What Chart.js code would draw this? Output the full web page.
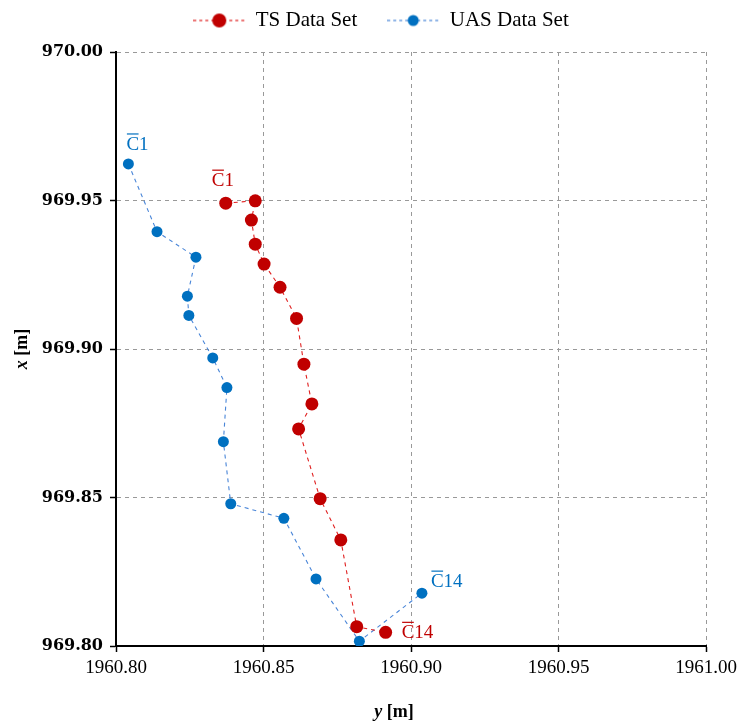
<!DOCTYPE html>
<html>
<head>
<meta charset="utf-8">
<script src="https://cdn.jsdelivr.net/npm/chart.js@4.4.0/dist/chart.umd.min.js"></script>
<style>
  html, body { margin: 0; padding: 0; background: #fff; }
  #wrap { width: 738px; height: 722px; }
</style>
</head>
<body>
<div id="wrap"><canvas id="grafico" width="738" height="722"></canvas></div>
<script>
// Datos (y [m] en eje horizontal, x [m] en eje vertical)
const tsY = [1960.8372, 1960.8472, 1960.8459, 1960.8472, 1960.8502, 1960.8556, 1960.8612,
             1960.8637, 1960.8664, 1960.8619, 1960.8692, 1960.8762, 1960.8816, 1960.8914];
const tsX = [969.9491, 969.9499, 969.9434, 969.9353, 969.9286, 969.9208, 969.9103,
             969.8949, 969.8815, 969.8731, 969.8496, 969.8357, 969.8065, 969.8046];

const uasY = [1960.8042, 1960.8139, 1960.8271, 1960.8242, 1960.8247, 1960.8328, 1960.8376,
              1960.8364, 1960.8389, 1960.8569, 1960.8678, 1960.8825, 1960.9037];
const uasX = [969.9623, 969.9395, 969.9309, 969.9178, 969.9113, 969.8970, 969.8870,
              969.8688, 969.8479, 969.8430, 969.8226, 969.8016, 969.8178];

const ejeYTicks = [1960.80, 1960.85, 1960.90, 1960.95, 1961.00];
const ejeXTicks = [969.80, 969.85, 969.90, 969.95, 970.00];

const nombresSeries = ['TS Data Set', 'UAS Data Set'];

// Etiquetas de los puntos extremos
const etiquetas = [
  { serie: 0, punto: 0, texto: '1' },
  { serie: 0, punto: 13, texto: '14' },
  { serie: 1, punto: 0, texto: '1' },
  { serie: 1, punto: 12, texto: '14' }
];

const rojo = '#C00000';
const rojoLinea = '#E02020';
const azul = '#0070C0';
const azulLinea = '#4A86D8';

function toPoints(xs, ys) {
  return xs.map((v, i) => ({ x: v, y: ys[i] }));
}

// icono de la leyenda: linea discontinua con circulo
function iconoLeyenda(colorLinea, colorPunto, radio) {
  const c = document.createElement('canvas');
  c.width = 52;
  c.height = 16;
  const ctx = c.getContext('2d');
  ctx.strokeStyle = colorLinea;
  ctx.lineWidth = 1.2;
  ctx.setLineDash([3, 3]);
  ctx.beginPath();
  ctx.moveTo(0, 8);
  ctx.lineTo(52, 8);
  ctx.stroke();
  ctx.setLineDash([]);
  ctx.fillStyle = colorPunto;
  ctx.beginPath();
  ctx.arc(26, 8, radio, 0, Math.PI * 2);
  ctx.fill();
  return c;
}

const iconos = [iconoLeyenda(rojoLinea, rojo, 7), iconoLeyenda(azulLinea, azul, 5.5)];

// posicion de las etiquetas relativa al punto (px)
const offsetsEtiquetas = [
  { dx: -14, dy: -17 },
  { dx: 16, dy: 6 },
  { dx: -2, dy: -14 },
  { dx: 9, dy: -6 }
];
const coloresEtiquetas = [rojo, rojo, azul, azul];

const pluginEtiquetas = {
  id: 'etiquetasPuntos',
  afterDatasetsDraw(chart) {
    const ctx = chart.ctx;
    ctx.save();
    ctx.font = '19px "Liberation Serif"';
    ctx.textBaseline = 'alphabetic';
    ctx.textAlign = 'left';
    etiquetas.forEach((et, i) => {
      const p = chart.data.datasets[et.serie].data[et.punto];
      const px = chart.scales.x.getPixelForValue(p.x);
      const py = chart.scales.y.getPixelForValue(p.y);
      const x = px + offsetsEtiquetas[i].dx;
      const y = py + offsetsEtiquetas[i].dy;
      ctx.fillStyle = coloresEtiquetas[i];
      ctx.strokeStyle = coloresEtiquetas[i];
      ctx.fillText('C', x, y);
      const w = ctx.measureText('C').width;
      ctx.fillText(et.texto, x + w, y);
      ctx.lineWidth = 1.2;
      ctx.beginPath();
      ctx.moveTo(x + 0.5, y - 16);
      ctx.lineTo(x + w - 0.5, y - 16);
      ctx.stroke();
    });
    ctx.restore();
  }
};

// titulos de ejes con la variable en cursiva
const pluginTitulos = {
  id: 'titulosEjes',
  afterDraw(chart) {
    const ctx = chart.ctx;
    const area = chart.chartArea;
    ctx.save();
    ctx.fillStyle = '#000';
    ctx.textBaseline = 'middle';
    const fIt = 'italic bold 18px "Liberation Serif"';
    const fN = 'bold 18px "Liberation Serif"';
    ctx.font = fIt;
    const w1 = ctx.measureText('y').width;
    ctx.font = fN;
    const w2 = ctx.measureText(' [m]').width;
    // eje horizontal (algo a la izquierda del centro, como en la figura)
    let cx = 394 - (w1 + w2) / 2;
    ctx.textAlign = 'left';
    ctx.font = fIt;
    ctx.fillText('y', cx, 712);
    ctx.font = fN;
    ctx.fillText(' [m]', cx + w1, 712);
    // eje vertical
    ctx.translate(22, (area.top + area.bottom) / 2);
    ctx.rotate(-Math.PI / 2);
    ctx.font = fIt;
    const w3 = ctx.measureText('x').width;
    cx = -(w3 + w2) / 2;
    ctx.fillText('x', cx, 0);
    ctx.font = fN;
    ctx.fillText(' [m]', cx + w3, 0);
    ctx.restore();
  }
};

// recoloca la leyenda dentro de su caja
const pluginLeyenda = {
  id: 'ajusteLeyenda',
  afterLayout(chart) {
    const lg = chart.legend;
    lg.top -= 11;
    lg.left += 28;
    lg.right += 28;
  }
};

const grafico = new Chart(document.getElementById('grafico'), {
  type: 'scatter',
  data: {
    datasets: [{
      label: nombresSeries[0],
      data: toPoints(tsY, tsX),
      showLine: true,
      borderColor: rojoLinea,
      borderWidth: 1.1,
      borderDash: [4, 4],
      backgroundColor: rojo,
      pointBackgroundColor: rojo,
      pointBorderWidth: 0,
      pointRadius: 6.5,
      pointHoverRadius: 6.5
    }, {
      label: nombresSeries[1],
      data: toPoints(uasY, uasX),
      showLine: true,
      borderColor: azulLinea,
      borderWidth: 1.1,
      borderDash: [4, 4],
      backgroundColor: azul,
      pointBackgroundColor: azul,
      pointBorderWidth: 0,
      pointRadius: 5.5,
      pointHoverRadius: 5.5
    }]
  },
  options: {
    responsive: false,
    animation: false,
    layout: { padding: { top: -9, right: 32, left: 0, bottom: 0 } },
    scales: {
      x: {
        type: 'linear',
        min: ejeYTicks[0],
        max: ejeYTicks[ejeYTicks.length - 1],
        afterBuildTicks: (s) => { s.ticks = ejeYTicks.map(v => ({ value: v })); },
        afterFit: (s) => { s.height = 76; s.paddingLeft = 0; s.paddingRight = 0; },
        ticks: {
          callback: (v) => Number(v).toFixed(2),
          color: '#000',
          padding: 5,
          maxRotation: 0,
          font: { family: '"Liberation Serif"', size: 19 }
        },
        grid: {
          color: '#999',
          lineWidth: 1,
          tickLength: 6,
          tickColor: '#000',
          tickBorderDash: [],
          tickWidth: 1.5
        },
        border: { display: true, color: '#000', width: 2, dash: [4, 4] }
      },
      y: {
        type: 'linear',
        min: ejeXTicks[0],
        max: ejeXTicks[ejeXTicks.length - 1],
        afterBuildTicks: (s) => { s.ticks = ejeXTicks.map(v => ({ value: v })); },
        afterFit: (s) => { s.width = 116; },
        ticks: {
          callback: (v) => Number(v).toFixed(2),
          color: '#000',
          padding: 7,
          font: { family: '"DejaVu Serif"', size: 16, weight: 'bold' }
        },
        grid: {
          color: '#999',
          lineWidth: 1,
          tickLength: 6,
          tickColor: '#000',
          tickBorderDash: [],
          tickWidth: 1.5
        },
        border: { display: true, color: '#000', width: 2, dash: [4, 4] }
      }
    },
    plugins: {
      legend: {
        position: 'top',
        labels: {
          usePointStyle: true,
          pointStyleWidth: 52,
          boxHeight: 16,
          padding: 30,
          color: '#000',
          font: { family: '"Liberation Serif"', size: 21 },
          generateLabels: (chart) => chart.data.datasets.map((ds, i) => ({
            text: ds.label,
            pointStyle: iconos[i],
            fillStyle: ds.backgroundColor,
            strokeStyle: ds.backgroundColor,
            lineWidth: 0,
            hidden: false,
            datasetIndex: i,
            fontColor: '#000'
          }))
        }
      },
      tooltip: { enabled: false }
    }
  },
  plugins: [pluginEtiquetas, pluginTitulos, pluginLeyenda]
});
</script>
</body>
</html>
